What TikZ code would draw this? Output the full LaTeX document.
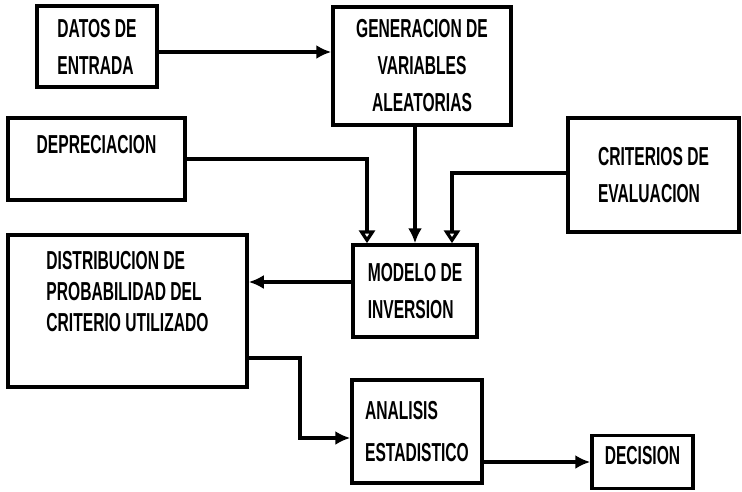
\documentclass[tikz,border=0pt]{standalone}
\usepackage{fontspec}
\usepackage{tikz}
\usetikzlibrary{positioning,arrows.meta,calc}
\newfontfamily\dotfont[FakeStretch=0.6,UprightFont=* Bold]{Liberation Sans}
\tikzset{
  blockbox/.style={
    rectangle,
    draw=black,
    line width=3.5pt,
    inner sep=0pt,
    align=left,
    font=\dotfont\fontsize{26}{37}\selectfont
  },
  flowarrow/.style={
    -{Latex[length=15pt,width=14pt]},
    line width=3.5pt
  },
  hollowarrow/.style={
    -{Triangle[open,length=13pt,width=16pt]},
    line width=3.5pt
  }
}
\begin{document}
\begin{tikzpicture}[x=1pt, y=-1pt]
  \useasboundingbox (0,0) rectangle (742,491);

  % Input blocks
  \node[blockbox, minimum width=120pt, minimum height=81pt] (datos) at (97,46.5) {DATOS DE\\ENTRADA};
  \node[blockbox, align=center, minimum width=178pt, minimum height=118pt] (gen) at (422,66) {GENERACION DE\\VARIABLES\\ALEATORIAS};
  \node[blockbox, minimum width=177pt, minimum height=82pt, text depth=29pt] (dep) at (96.5,159) {DEPRECIACION};
  \node[blockbox, minimum width=171pt, minimum height=114pt] (crit) at (653.5,175) {CRITERIOS DE\\EVALUACION};

  % Model and results
  \node[blockbox, minimum width=124pt, minimum height=92pt] (modelo) at (415,291) {MODELO DE\\INVERSION};
  \node[blockbox, minimum width=239pt, minimum height=152pt, text depth=40pt,
        font=\dotfont\fontsize{26}{31}\selectfont] (dist) at (127.5,311) {DISTRIBUCION DE\\PROBABILIDAD DEL\\CRITERIO UTILIZADO};
  \node[blockbox, minimum width=130pt, minimum height=103pt,
        font=\dotfont\fontsize{26}{42}\selectfont] (anal) at (417,431.5) {ANALISIS\\ESTADISTICO};
  \node[blockbox, minimum width=101pt, minimum height=53pt, text depth=14pt] (dec) at (642.5,462) {DECISION};

  % Inputs into the model
  \draw[flowarrow] ([yshift=-5.5pt]datos.east) -- ([yshift=-5.5pt]datos.east -| gen.west);
  \draw[flowarrow] (modelo.north |- gen.south) -- (modelo.north);
  \draw[hollowarrow] (dep.east) -| ([xshift=-48pt]modelo.north);
  \draw[hollowarrow] ([yshift=2pt]crit.west) -| ([xshift=37pt]modelo.north);

  % Model outputs
  \draw[flowarrow] ([yshift=9pt]modelo.west) -- ([yshift=9pt]modelo.west -| dist.east);
  \draw[flowarrow] ([yshift=-47pt]dist.east) -- ++(51pt,0) |- ([yshift=-6.5pt]anal.west);
  \draw[flowarrow] (anal.east |- dec.west) -- (dec.west);

\end{tikzpicture}
\end{document}
